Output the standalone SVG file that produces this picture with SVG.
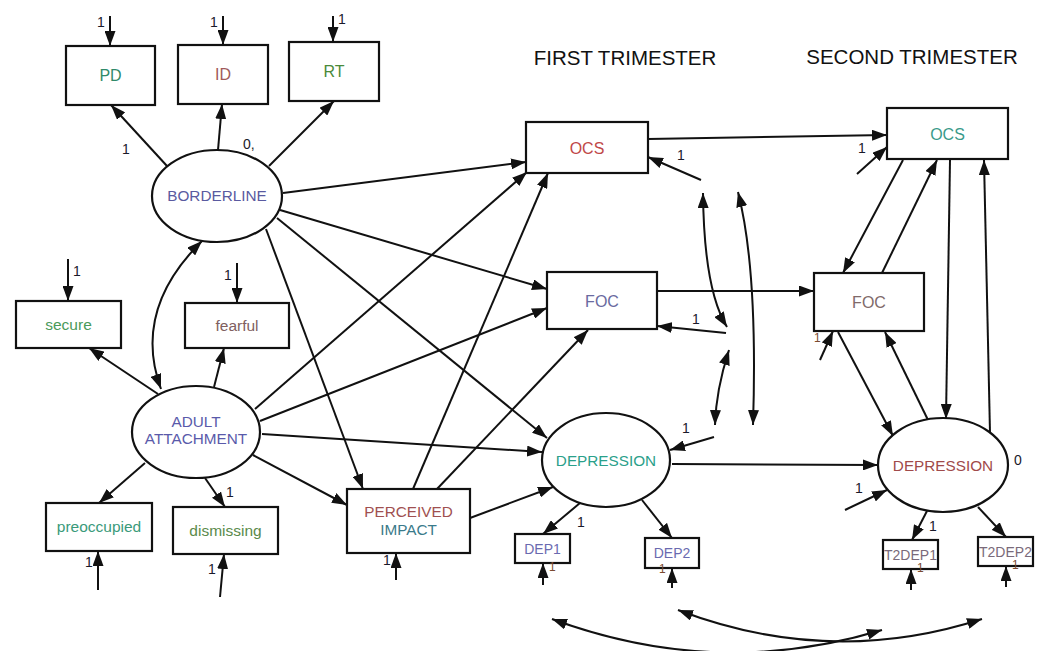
<svg xmlns="http://www.w3.org/2000/svg" width="1044" height="651" viewBox="0 0 1044 651">
<style>
.box{fill:#fff;stroke:#111;stroke-width:2.2}
.ell{fill:#fff;stroke:#111;stroke-width:2.2}
.t{font-family:"Liberation Sans",Arial,sans-serif;font-size:15.3px;text-anchor:middle}
.b{font-family:"Liberation Sans",Arial,sans-serif;font-size:16px;text-anchor:middle}
.l{font-family:"Liberation Sans",Arial,sans-serif;font-size:15.5px;text-anchor:middle}
.s{font-family:"Liberation Sans",Arial,sans-serif;font-size:14px;text-anchor:middle}
.n{font-family:"Liberation Sans",Arial,sans-serif;font-size:14px;fill:#1a1a2a}
.sm{font-family:"Liberation Sans",Arial,sans-serif;font-size:12px;fill:#7a4a30}
.title{font-family:"Liberation Sans",Arial,sans-serif;font-size:20.5px;fill:#111;text-anchor:middle}
.c line,.c path{stroke:#111;stroke-width:2;fill:none}
.a{marker-end:url(#ah)}
.d{marker-end:url(#ah);marker-start:url(#ah)}
</style>
<defs>
<marker id="ah" markerUnits="userSpaceOnUse" markerWidth="15" markerHeight="11" refX="15" refY="5.5" orient="auto-start-reverse" viewBox="0 0 15 11">
<path d="M0,0 L15,5.5 L0,11 z" fill="#111"/>
</marker>
</defs>
<rect width="1044" height="651" fill="#fff"/>

<text class="title" x="625" y="65">FIRST TRIMESTER</text>
<text class="title" x="912" y="64">SECOND TRIMESTER</text>

<g class="c" id="connectors">
<line class="a" x1="110" y1="16" x2="110" y2="46"/>
<line class="a" x1="223" y1="16" x2="223" y2="45"/>
<line class="a" x1="333" y1="16" x2="333" y2="42"/>
<line class="a" x1="68" y1="259" x2="68" y2="301"/>
<line class="a" x1="237" y1="263" x2="237" y2="303"/>
<line class="a" x1="98" y1="590" x2="98" y2="551"/>
<line class="a" x1="220" y1="597" x2="224" y2="554"/>
<line class="a" x1="396" y1="580" x2="396" y2="553"/>
<line class="a" x1="543" y1="585" x2="543" y2="563"/>
<line class="a" x1="672" y1="588" x2="672" y2="568"/>
<line class="a" x1="911" y1="590" x2="911" y2="569"/>
<line class="a" x1="1006" y1="587" x2="1006" y2="566"/>
<line class="a" x1="701" y1="180" x2="648" y2="157"/>
<line class="a" x1="726" y1="333" x2="657" y2="326"/>
<line class="a" x1="714" y1="437" x2="670" y2="450"/>
<line class="a" x1="857" y1="174" x2="887" y2="147"/>
<line class="a" x1="820" y1="360" x2="833" y2="331"/>
<line class="a" x1="845" y1="510" x2="887" y2="490"/>
<line class="a" x1="167" y1="166" x2="111" y2="105"/>
<line class="a" x1="218" y1="150" x2="222" y2="104"/>
<line class="a" x1="269" y1="166" x2="334" y2="101"/>
<line class="a" x1="158" y1="394" x2="89" y2="348"/>
<line class="a" x1="214" y1="387" x2="224" y2="348"/>
<line class="a" x1="145" y1="463" x2="99" y2="503"/>
<line class="a" x1="205" y1="478" x2="225" y2="507"/>
<line class="a" x1="580" y1="503" x2="543" y2="534"/>
<line class="a" x1="642" y1="500" x2="672" y2="538"/>
<line class="a" x1="927" y1="511" x2="912" y2="540"/>
<line class="a" x1="978" y1="507" x2="1006" y2="537"/>
<path class="d" d="M202,241 Q132,310 161,389"/>
<line class="a" x1="283" y1="193" x2="526" y2="162"/>
<line class="a" x1="280" y1="210" x2="547" y2="289"/>
<line class="a" x1="277" y1="218" x2="547" y2="438"/>
<line class="a" x1="266" y1="229" x2="363" y2="489"/>
<line class="a" x1="255" y1="409" x2="527" y2="172"/>
<line class="a" x1="260" y1="421" x2="547" y2="308"/>
<line class="a" x1="262" y1="434" x2="542" y2="452"/>
<line class="a" x1="253" y1="455" x2="347" y2="505"/>
<line class="a" x1="413" y1="489" x2="548" y2="173"/>
<line class="a" x1="437" y1="489" x2="588" y2="330"/>
<line class="a" x1="470" y1="518" x2="553" y2="487"/>
<line class="a" x1="648" y1="139" x2="887" y2="135"/>
<line class="a" x1="657" y1="291" x2="814" y2="291"/>
<line class="a" x1="672" y1="464" x2="878" y2="465"/>
<line class="a" x1="903" y1="160" x2="843" y2="273"/>
<line class="a" x1="882" y1="273" x2="937" y2="160"/>
<line class="a" x1="950" y1="160" x2="946" y2="419"/>
<line class="a" x1="990" y1="433" x2="984" y2="160"/>
<line class="a" x1="838" y1="332" x2="893" y2="436"/>
<line class="a" x1="928" y1="420" x2="885" y2="332"/>
<path class="d" d="M703,193 Q704,290 727,327"/>
<path class="d" d="M738,192 Q758,270 753,425"/>
<path class="d" d="M729,350 Q716,390 715,425"/>
<path class="d" d="M552,619 Q717,680 882,630"/>
<path class="d" d="M678,610 Q830,668 982,619"/>
</g>

<g id="PD"><rect class="box" x="66" y="46" width="89" height="59"/><text class="b" x="110.5" y="81" fill="#2f8a6a">PD</text></g>
<g id="ID"><rect class="box" x="178" y="45" width="90" height="59"/><text class="b" x="223" y="80" fill="#a05a5a">ID</text></g>
<g id="RT"><rect class="box" x="289" y="42" width="90" height="59"/><text class="b" x="334" y="77" fill="#4a8a3a">RT</text></g>
<g id="BORDERLINE"><ellipse class="ell" cx="217" cy="196" rx="65" ry="46"/><text class="t" x="217" y="201" fill="#5a5aa0">BORDERLINE</text></g>
<g id="secure"><rect class="box" x="16" y="301" width="105" height="47"/><text class="l" x="68.5" y="330" fill="#4a9a5a">secure</text></g>
<g id="fearful"><rect class="box" x="185" y="303" width="104" height="45"/><text class="l" x="237" y="331" fill="#806060">fearful</text></g>
<g id="ADULT_ATTACHMENT"><ellipse class="ell" cx="196" cy="432" rx="64" ry="46"/><text class="t" x="196" y="427" fill="#5a5aaa">ADULT</text><text class="t" x="196" y="444" fill="#5a5aaa">ATTACHMENT</text></g>
<g id="preoccupied"><rect class="box" x="46" y="503" width="106" height="48"/><text class="l" x="99" y="532" fill="#3a9a7a">preoccupied</text></g>
<g id="dismissing"><rect class="box" x="173" y="507" width="105" height="47"/><text class="l" x="225.5" y="536" fill="#5a8a4a">dismissing</text></g>
<g id="PERCEIVED_IMPACT"><rect class="box" x="347" y="489" width="123" height="64"/><text class="t" x="408.5" y="517" fill="#a05050">PERCEIVED</text><text class="t" x="408.5" y="535" fill="#3a7a8a">IMPACT</text></g>
<g id="OCS1"><rect class="box" x="526" y="122" width="122" height="51"/><text class="b" x="587" y="154" fill="#c04848">OCS</text></g>
<g id="FOC1"><rect class="box" x="547" y="272" width="110" height="57"/><text class="b" x="602" y="307" fill="#6a6aa0">FOC</text></g>
<g id="DEPRESSION1"><ellipse class="ell" cx="606" cy="460" rx="64" ry="47"/><text class="t" x="606" y="466" fill="#2aa08a">DEPRESSION</text></g>
<g id="DEP1"><rect class="box" x="515" y="534" width="55" height="29"/><text class="s" x="542.5" y="554" fill="#6a6ab0">DEP1</text></g>
<g id="DEP2"><rect class="box" x="645" y="538" width="54" height="30"/><text class="s" x="672" y="558" fill="#6a6ab0">DEP2</text></g>
<g id="OCS2"><rect class="box" x="887" y="108" width="121" height="51"/><text class="b" x="947.5" y="140" fill="#3a9a8a">OCS</text></g>
<g id="FOC2"><rect class="box" x="814" y="273" width="110" height="58"/><text class="b" x="869" y="308" fill="#806a6a">FOC</text></g>
<g id="DEPRESSION2"><ellipse class="ell" cx="943" cy="465" rx="65" ry="47"/><text class="t" x="943" y="471" fill="#a04a4a">DEPRESSION</text></g>
<g id="T2DEP1"><rect class="box" x="883" y="540" width="55" height="29"/><text class="s" x="910.5" y="560" fill="#7a6a7a">T2DEP1</text></g>
<g id="T2DEP2"><rect class="box" x="978" y="537" width="55" height="29"/><text class="s" x="1005.5" y="557" fill="#7a6a7a">T2DEP2</text></g>

<g id="labels">
<text class="n" x="97" y="27">1</text>
<text class="n" x="210" y="27">1</text>
<text class="n" x="338" y="24">1</text>
<text class="n" x="122" y="154">1</text>
<text class="n" x="243" y="149">0,</text>
<text class="n" x="73" y="276">1</text>
<text class="n" x="224" y="280">1</text>
<text class="n" x="226" y="497">1</text>
<text class="n" x="85" y="567">1</text>
<text class="n" x="208" y="574">1</text>
<text class="n" x="383" y="565">1</text>
<text class="n" x="677" y="160">1</text>
<text class="n" x="692" y="324">1</text>
<text class="n" x="682" y="433">1</text>
<text class="n" x="577" y="527">1</text>
<text class="n" x="858" y="153">1</text>
<text class="n" x="855" y="493">1</text>
<text class="n" x="929" y="531">1</text>
<text class="n" x="1014" y="465">0</text>
<text class="sm" x="549" y="571">1</text>
<text class="sm" x="659" y="573">1</text>
<text class="sm" x="917" y="572">1</text>
<text class="sm" x="1012" y="569">1</text>
<text class="sm" x="814" y="342">1</text>
</g>
</svg>
